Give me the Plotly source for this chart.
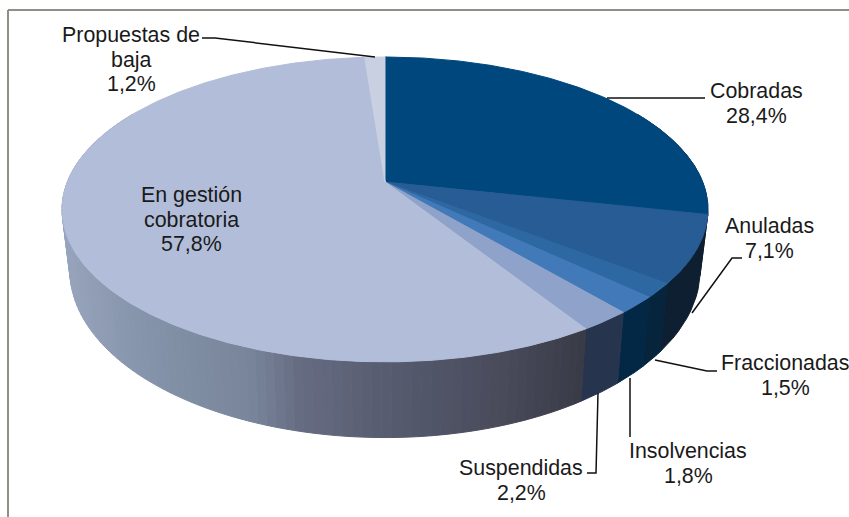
import math
import numpy as np
import plotly.graph_objects as go

# Data, clockwise from 12 o'clock
categories = ["Cobradas", "Anuladas", "Fraccionadas", "Insolvencias",
              "Suspendidas", "En gestión<br>cobratoria", "Propuestas de<br>baja"]
values = [28.4, 7.1, 1.5, 1.8, 2.2, 57.8, 1.2]

top_colors = ["#00477d", "#275c94", "#2e68a3", "#4279b8", "#8fa3ca", "#b2bed9", "#c8d0e2"]
side_colors = ["#0c1d2e", "#0d1f30", "#06243c", "#032845", "#26354d", None, "#8f9cb4"]
gest_x = [60, 130, 250, 300, 400, 500, 590]
gest_c = [(152, 165, 189), (136, 150, 173), (120, 133, 154), (102, 108, 130),
          (85, 90, 110), (74, 76, 92), (56, 58, 70)]

label_pos = [(756, 91), (769, 226), (785, 363), (688, 451), (521, 468), (191, 195), (131, 35)]
LINE_STEP = 24.5
leaders = [
    ([705, 607], [98, 98]),
    ([742, 732, 692], [258, 258, 313]),
    ([717, 707, 655], [371, 371, 360]),
    ([630, 630], [437, 378]),
    ([587, 596, 598], [473, 473, 393]),
    ([202, 215, 375], [38, 38, 57]),
]

# Perspective disc parameters (top face and base)
K = 0.18
CX = 385
TOP = dict(cy=182, a=317.7, b=147.5)
BASE = dict(cy=240, a=310, b=162)


def project(deg, disc):
    t = np.radians(deg)
    u, v = np.sin(t), np.cos(t)
    d = 1 + K * v
    return CX + disc["a"] * u / d, disc["cy"] - disc["b"] * v / d


def gest_color(x):
    return "rgb(%d,%d,%d)" % tuple(np.interp(x, gest_x, [c[i] for c in gest_c]) for i in range(3))


fig = go.Figure()


def poly(xs, ys, color):
    fig.add_trace(go.Scatter(x=list(xs), y=list(ys), mode="lines", fill="toself", fillcolor=color,
                             line=dict(color=color, width=1), hoverinfo="skip", showlegend=False))


edges = np.concatenate([[0], np.cumsum(values)]) * 3.6

# Side wall
for i, (s, e) in enumerate(zip(edges[:-1], edges[1:])):
    lo, hi = max(s, 60), min(e, 300)
    if lo >= hi:
        continue
    steps = max(1, int(math.ceil((hi - lo) / 1.5))) if side_colors[i] is None else 1
    for j in range(steps):
        a0 = lo + (hi - lo) * j / steps
        a1 = lo + (hi - lo) * (j + 1) / steps
        ts = np.linspace(a0, a1, 12 if steps == 1 else 3)
        tx, ty = project(ts, TOP)
        bx, by = project(ts[::-1], BASE)
        col = side_colors[i] or gest_color((tx[0] + tx[-1]) / 2)
        poly(np.r_[tx, bx, tx[0]], np.r_[ty, by, ty[0]], col)

# Top face
for i, (s, e) in enumerate(zip(edges[:-1], edges[1:])):
    ts = np.linspace(s, e, max(4, int((e - s) * 2)))
    x, y = project(ts, TOP)
    poly(np.r_[CX, x, CX], np.r_[TOP["cy"], y, TOP["cy"]], top_colors[i])

# Leader lines
for lx, ly in leaders:
    fig.add_trace(go.Scatter(x=lx, y=ly, mode="lines", line=dict(color="#111111", width=1.5),
                             hoverinfo="skip", showlegend=False))

# Labels
for name, val, (x, y) in zip(categories, values, label_pos):
    lines = name.split("<br>") + [f"{val:.1f}%".replace(".", ",")]
    for n, line in enumerate(lines):
        fig.add_annotation(x=x, y=y + n * LINE_STEP, text=line, showarrow=False,
                           xanchor="center", yanchor="middle", align="center",
                           font=dict(family="Liberation Sans, Arial, sans-serif", size=21.4, color="#1a1a1a"))

# Frame
fig.add_shape(type="line", x0=8, x1=849, y0=10, y1=10, line=dict(color="#8f8f87", width=2))
fig.add_shape(type="line", x0=8, x1=8, y0=10, y1=517, line=dict(color="#8f8f87", width=2))

fig.update_layout(width=849, height=517, margin=dict(l=0, r=0, t=0, b=0),
                  paper_bgcolor="white", plot_bgcolor="white", showlegend=False,
                  xaxis=dict(range=[0, 849], visible=False, fixedrange=True),
                  yaxis=dict(range=[517, 0], visible=False, fixedrange=True))
fig.write_html("out.html", config={"displayModeBar": False},
               post_script="document.body.style.margin='0';document.documentElement.style.overflow='hidden';")
